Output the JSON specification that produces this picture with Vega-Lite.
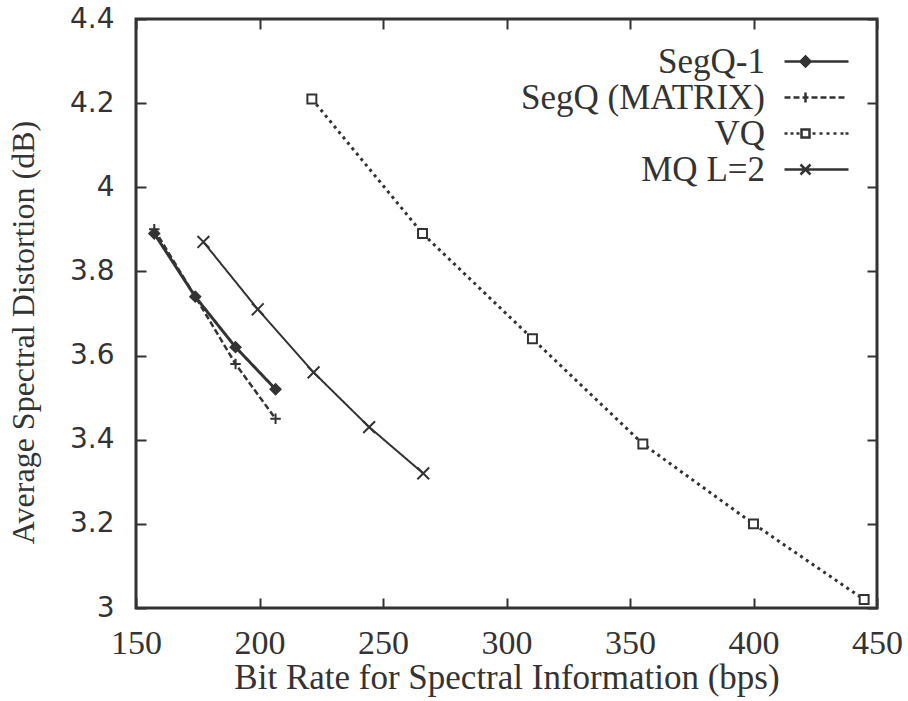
{
  "$schema": "https://vega.github.io/schema/vega-lite/v6.json",
  "width": 741,
  "height": 589,
  "autosize": "none",
  "padding": {"left": 136, "top": 19, "right": 31, "bottom": 93},
  "background": "white",
  "config": {
    "view": {"stroke": "#333", "strokeWidth": 3},
    "axis": {"grid": false, "domain": false, "labelFlush": false, "tickColor": "#333", "tickWidth": 2, "tickSize": -10, "labelColor": "#333", "titleColor": "#333", "titleFontWeight": "normal"}
  },
  "data": {
    "values": [
      {"series": "SegQ-1", "rate": 157.4, "dist": 3.89},
      {"series": "SegQ-1", "rate": 174.0, "dist": 3.74},
      {"series": "SegQ-1", "rate": 190.3, "dist": 3.62},
      {"series": "SegQ-1", "rate": 206.5, "dist": 3.52},
      {"series": "SegQ (MATRIX)", "rate": 157.4, "dist": 3.90},
      {"series": "SegQ (MATRIX)", "rate": 174.0, "dist": 3.74},
      {"series": "SegQ (MATRIX)", "rate": 190.3, "dist": 3.58},
      {"series": "SegQ (MATRIX)", "rate": 206.5, "dist": 3.45},
      {"series": "VQ", "rate": 221.2, "dist": 4.21},
      {"series": "VQ", "rate": 266.0, "dist": 3.89},
      {"series": "VQ", "rate": 310.5, "dist": 3.64},
      {"series": "VQ", "rate": 355.2, "dist": 3.39},
      {"series": "VQ", "rate": 400.0, "dist": 3.20},
      {"series": "VQ", "rate": 444.8, "dist": 3.02},
      {"series": "MQ L=2", "rate": 177.3, "dist": 3.87},
      {"series": "MQ L=2", "rate": 199.3, "dist": 3.71},
      {"series": "MQ L=2", "rate": 221.9, "dist": 3.56},
      {"series": "MQ L=2", "rate": 244.4, "dist": 3.43},
      {"series": "MQ L=2", "rate": 266.3, "dist": 3.32}
    ]
  },
  "layer": [
    {
      "mark": {"type": "line", "color": "#333", "strokeCap": "butt", "strokeJoin": "round"},
      "encoding": {
        "x": {
          "field": "rate", "type": "quantitative",
          "scale": {"domain": [150, 450], "nice": false, "zero": false},
          "axis": {
            "orient": "bottom", "values": [150, 200, 250, 300, 350, 400, 450],
            "labelFont": "Liberation Serif", "labelFontSize": 34, "labelPadding": 28,
            "title": "Bit Rate for Spectral Information (bps)",
            "titleFont": "Liberation Serif", "titleFontSize": 35, "titlePadding": 0
          }
        },
        "y": {
          "field": "dist", "type": "quantitative",
          "scale": {"domain": [3, 4.4], "nice": false, "zero": false},
          "axis": {
            "orient": "left", "values": [3, 3.2, 3.4, 3.6, 3.8, 4, 4.2, 4.4], "format": ".2~f",
            "labelFont": "DejaVu Sans", "labelFontSize": 28, "labelPadding": 32,
            "title": "Average Spectral Distortion (dB)",
            "titleFont": "Liberation Serif", "titleFontSize": 32, "titlePadding": 29, "titleY": 313
          }
        },
        "detail": {"field": "series"},
        "strokeDash": {
          "condition": [
            {"test": "datum.series === 'SegQ (MATRIX)'", "value": [6, 3]},
            {"test": "datum.series === 'VQ'", "value": [3, 4]}
          ],
          "value": [1, 0]
        },
        "strokeWidth": {
          "condition": [
            {"test": "datum.series === 'SegQ-1'", "value": 3},
            {"test": "datum.series === 'SegQ (MATRIX)'", "value": 2.5},
            {"test": "datum.series === 'VQ'", "value": 3}
          ],
          "value": 2
        }
      }
    },
    {
      "mark": {"type": "point", "stroke": "#333", "strokeWidth": 2, "opacity": 1},
      "encoding": {
        "x": {
          "field": "rate", "type": "quantitative",
          "scale": {"domain": [150, 450], "nice": false, "zero": false},
          "axis": {"orient": "top", "values": [150, 200, 250, 300, 350, 400, 450], "labels": false, "title": null}
        },
        "y": {
          "field": "dist", "type": "quantitative",
          "scale": {"domain": [3, 4.4], "nice": false, "zero": false},
          "axis": {"orient": "right", "values": [3, 3.2, 3.4, 3.6, 3.8, 4, 4.2, 4.4], "labels": false, "title": null}
        },
        "shape": {
          "condition": [
            {"test": "datum.series === 'SegQ-1'", "value": "M0,-1L1,0L0,1L-1,0Z"},
            {"test": "datum.series === 'SegQ (MATRIX)'", "value": "M-1,0H1M0,-1V1"},
            {"test": "datum.series === 'VQ'", "value": "M-1,-1H1V1H-1Z"}
          ],
          "value": "M-1,-1L1,1M-1,1L1,-1"
        },
        "fill": {
          "condition": [
            {"test": "datum.series === 'VQ'", "value": "white"}
          ],
          "value": "#333"
        },
        "size": {
          "condition": [
            {"test": "datum.series === 'VQ'", "value": 80},
            {"test": "datum.series === 'MQ L=2'", "value": 140},
            {"test": "datum.series === 'SegQ (MATRIX)'", "value": 110}
          ],
          "value": 100
        }
      }
    },
    {
      "mark": {"type": "point", "filled": false, "stroke": "#333", "color": "#333", "strokeWidth": 2.5, "opacity": 0},
      "encoding": {
        "x": {"field": "rate", "type": "quantitative", "axis": null},
        "y": {"field": "dist", "type": "quantitative", "axis": null},
        "shape": {
          "field": "series", "type": "nominal",
          "scale": {
            "domain": ["SegQ-1", "SegQ (MATRIX)", "VQ", "MQ L=2"],
            "range": [
              "M-8,0H8M-2.75,-1.25L-1.5,0L-2.75,1.25L-4,0ZM-2.75,-0.6L-2.15,0L-2.75,0.6L-3.35,0Z",
              "M-8,0H-6.5M-5.75,0H-4.25M-3.5,0H-2M-1.25,0H0.25M1,0H2.5M3.25,0H4.75M5.5,0H7M-2.75,-1.25V1.25",
              "M-8,0h0.75M-6.5,0h0.75M-5,0h0.75M-1,0h0.75M0.75,0h0.75M2.5,0h0.75M4.25,0h0.75M6,0h0.75M7.25,0h0.75M-3.75,-1H-1.75V1H-3.75Z",
              "M-8,0H8M-4,-1.25L-1.5,1.25M-4,1.25L-1.5,-1.25"
            ]
          },
          "legend": {
            "title": null,
            "orient": "none",
            "legendX": 663,
            "legendY": 25,
            "padding": 0,
            "symbolSize": 64,
            "symbolOpacity": 1,
            "symbolStrokeWidth": 2.5,
            "symbolStrokeColor": "#333",
            "symbolFillColor": "transparent",
            "rowPadding": -3,
            "labelAlign": "right",
            "labelOffset": -69,
            "labelLimit": 500,
            "labelFont": "Liberation Serif",
            "labelFontSize": 35,
            "labelColor": "#333"
          }
        }
      }
    }
  ],
  "resolve": {"axis": {"x": "independent", "y": "independent"}}
}
